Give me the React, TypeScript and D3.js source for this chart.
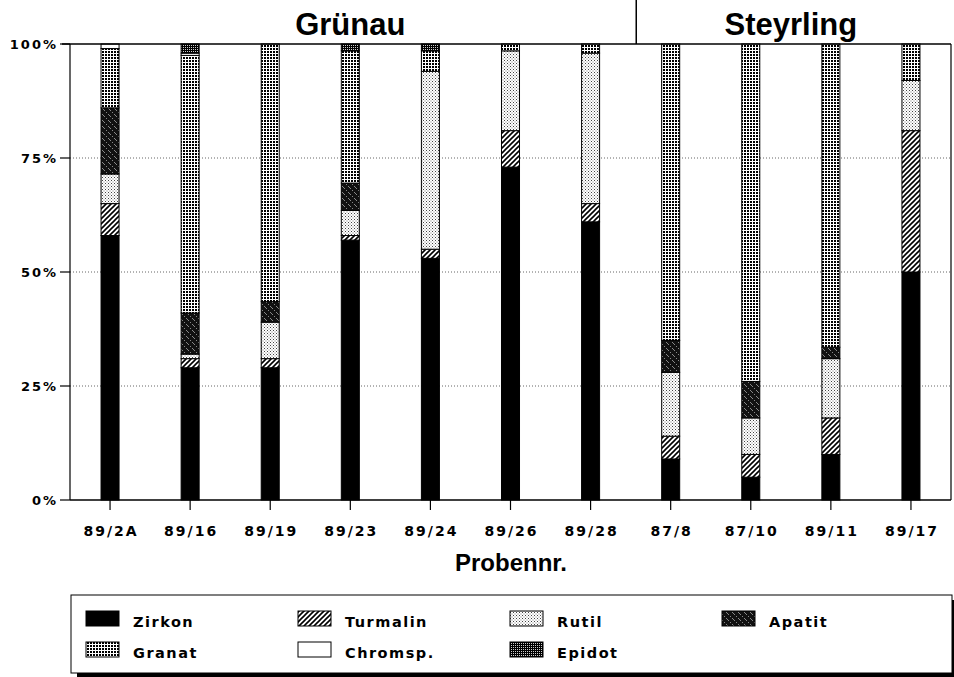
import * as d3 from 'd3';

// sample numbers on the x axis, two localities
const samples = ['89/2A', '89/16', '89/19', '89/23', '89/24', '89/26', '89/28', '87/8', '87/10', '89/11', '89/17'];
const groups = [
  { name: 'Grünau', from: 0, to: 6 },
  { name: 'Steyrling', from: 7, to: 10 },
];

// heavy mineral shares in % (stacked bottom to top)
const minerals = ['Zirkon', 'Turmalin', 'Rutil', 'Apatit', 'Granat', 'Chromsp.', 'Epidot'];
const zirkon = [58, 29, 29, 57, 53, 73, 61, 9, 5, 10, 50];
const turmalin = [7, 2, 2, 1, 2, 8, 4, 5, 5, 8, 31];
const rutil = [6.5, 1, 8, 5.5, 39, 17.5, 33, 14, 8, 13, 11];
const apatit = [14.5, 9, 4.5, 6, 0, 0, 0, 7, 8, 2.5, 0];
const granat = [13, 56.5, 56.5, 29, 4.5, 1.5, 2, 65, 74, 66.5, 8];
const chromsp = [1, 0.5, 0, 0, 0, 0, 0, 0, 0, 0, 0];
const epidot = [0, 2, 0, 1.5, 1.5, 0, 0, 0, 0, 0, 0];

const yTicks = [0, 25, 50, 75, 100];

const W = 954;
const H = 677;
const LABEL_FONT = '"DejaVu Sans", sans-serif';
const TITLE_FONT = '"Liberation Sans", Arial, sans-serif';

const fills: Record<string, string> = {
  Zirkon: '#000',
  Turmalin: 'url(#p-turmalin)',
  Rutil: 'url(#p-rutil)',
  Apatit: 'url(#p-apatit)',
  Granat: 'url(#p-granat)',
  'Chromsp.': '#fff',
  Epidot: 'url(#p-epidot)',
};

export default function App() {
  const series = [zirkon, turmalin, rutil, apatit, granat, chromsp, epidot];
  const table = samples.map((s, i) => {
    const row: Record<string, any> = { sample: s };
    minerals.forEach((m, k) => (row[m] = series[k][i]));
    return row;
  });
  const stacked = d3.stack<any>().keys(minerals)(table);

  const x = d3.scaleBand<string>()
    .domain(samples)
    .range([70, 951])
    .paddingInner(0.775)
    .paddingOuter(0.3875);
  const y = d3.scaleLinear().domain([0, 100]).range([500, 44]);

  const cx = (s: string) => (x(s) ?? 0) + x.bandwidth() / 2;
  const sepX = cx(samples[7]) - x.step() * 0.43;

  const legendRows = [
    ['Zirkon', 'Turmalin', 'Rutil', 'Apatit'],
    ['Granat', 'Chromsp.', 'Epidot'],
  ];
  const legendCols = [86, 298, 510, 722];

  return (
    <svg width={W} height={H} style={{ position: 'absolute', left: 0, top: 0, background: '#fff' }}>
      <defs>
        <pattern id="p-turmalin" patternUnits="userSpaceOnUse" width="5" height="5">
          <rect width="5" height="5" fill="#fff" />
          <path d="M0,5 L5,0 M-1,1 L1,-1 M4,6 L6,4" stroke="#000" strokeWidth="1.6" />
        </pattern>
        <pattern id="p-rutil" patternUnits="userSpaceOnUse" width="3" height="3">
          <rect width="3" height="3" fill="#fff" />
          <rect x="0" y="0" width="1" height="1" fill="#444" />
          <rect x="1.5" y="1.5" width="1" height="1" fill="#777" />
        </pattern>
        <pattern id="p-apatit" patternUnits="userSpaceOnUse" width="6" height="6">
          <rect width="6" height="6" fill="#111" />
          <path d="M0,0 L3,3" stroke="#bbb" strokeWidth="0.7" />
          <rect x="4" y="4" width="1" height="1" fill="#888" />
        </pattern>
        <pattern id="p-granat" patternUnits="userSpaceOnUse" width="3" height="3">
          <rect width="3" height="3" fill="#fff" />
          <rect x="0" y="0" width="2" height="2" fill="#000" />
        </pattern>
        <pattern id="p-epidot" patternUnits="userSpaceOnUse" width="2" height="2">
          <rect width="2" height="2" fill="#000" />
          <rect x="1" y="1" width="1" height="1" fill="#ccc" />
        </pattern>
      </defs>

      {/* header */}
      <line x1={sepX} x2={sepX} y1={0} y2={44} stroke="#000" strokeWidth={1.5} />
      {groups.map((g) => (
        <text
          key={g.name}
          x={(cx(samples[g.from]) + cx(samples[g.to])) / 2}
          y={35}
          textAnchor="middle"
          fontFamily={TITLE_FONT}
          fontWeight="bold"
          fontSize={31}
        >
          {g.name}
        </text>
      ))}

      {/* grid + y axis */}
      {yTicks.map((t) => (
        <g key={t}>
          {t > 0 && t < 100 && (
            <line x1={70} x2={951} y1={y(t)} y2={y(t)} stroke="#666" strokeWidth={1} strokeDasharray="1,2" />
          )}
          <line x1={60} x2={70} y1={y(t)} y2={y(t)} stroke="#000" strokeWidth={1.2} />
          <text
            x={58}
            y={y(t) + 5}
            textAnchor="end"
            fontFamily={LABEL_FONT}
            fontWeight="bold"
            fontSize={13}
            letterSpacing={2}
          >
            {t}%
          </text>
        </g>
      ))}

      {/* bars */}
      {stacked.map((layer) => (
        <g key={layer.key}>
          {layer.map((d, i) =>
            d[1] - d[0] > 0 ? (
              <rect
                key={i}
                x={x(samples[i])}
                y={y(d[1])}
                width={x.bandwidth()}
                height={y(d[0]) - y(d[1])}
                fill={fills[layer.key]}
                stroke="#000"
                strokeWidth={1}
              />
            ) : null,
          )}
        </g>
      ))}

      {/* frame */}
      <line x1={62} x2={951} y1={y(100)} y2={y(100)} stroke="#000" strokeWidth={1.5} />
      <line x1={70} x2={70} y1={y(100)} y2={y(0)} stroke="#000" strokeWidth={1.2} />
      <line x1={951} x2={951} y1={y(100)} y2={y(0)} stroke="#000" strokeWidth={1.2} />
      <line x1={70} x2={951} y1={y(0)} y2={y(0)} stroke="#000" strokeWidth={1.5} />

      {/* x axis */}
      {samples.map((s) => (
        <g key={s}>
          <line x1={cx(s)} x2={cx(s)} y1={y(0)} y2={y(0) + 10} stroke="#000" strokeWidth={1.2} />
          <text
            x={cx(s) + 1}
            y={536}
            textAnchor="middle"
            fontFamily={LABEL_FONT}
            fontWeight="bold"
            fontSize={14}
            letterSpacing={2}
          >
            {s}
          </text>
        </g>
      ))}
      <text x={511} y={571} textAnchor="middle" fontFamily={TITLE_FONT} fontWeight="bold" fontSize={24}>
        Probennr.
      </text>

      {/* legend */}
      <rect x={77} y={600} width={880} height={77} fill="#000" />
      <rect x={71} y={595} width={881} height={78} fill="#fff" stroke="#000" strokeWidth={1} />
      {legendRows.map((row, r) =>
        row.map((m, c) => (
          <g key={m}>
            <rect
              x={legendCols[c]}
              y={611 + r * 31}
              width={33}
              height={15}
              fill={fills[m]}
              stroke="#000"
              strokeWidth={1}
            />
            <text
              x={legendCols[c] + 47}
              y={627 + r * 31}
              fontFamily={LABEL_FONT}
              fontWeight="bold"
              fontSize={14.5}
              letterSpacing={1.5}
            >
              {m}
            </text>
          </g>
        )),
      )}
    </svg>
  );
}
